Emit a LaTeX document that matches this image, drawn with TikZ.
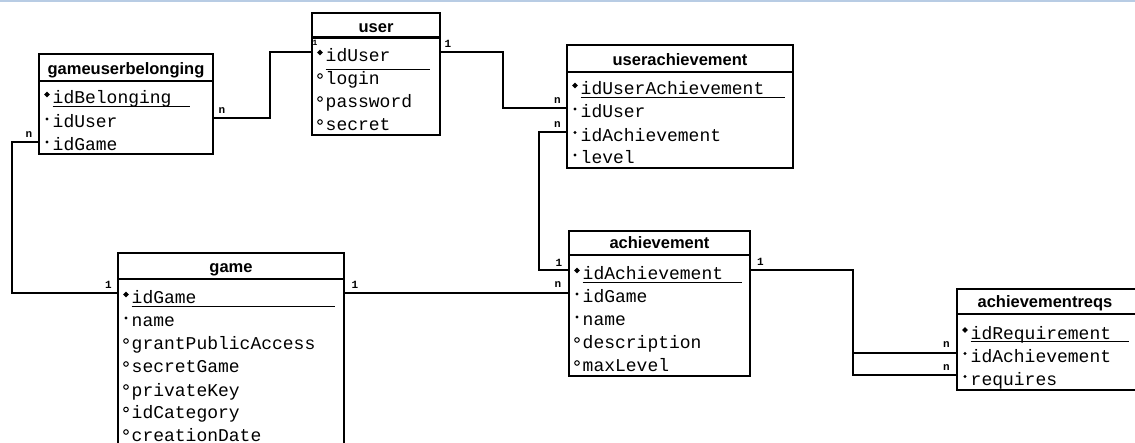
\documentclass[tikz,border=0pt]{standalone}
\usepackage{fontspec}
\newfontfamily\fieldfont{Liberation Mono}
\newfontfamily\headfont{Liberation Sans}
\definecolor{band}{HTML}{B8CCE4}

\tikzset{
  tbl/.style={draw, line width=2.4pt, inner sep=0pt, outer sep=0pt},
  divline/.style={line width=2.2pt},
  conn/.style={line width=2.9pt},
  uline/.style={line width=1.4pt},
  fieldtxt/.style={anchor=base west, inner sep=0pt, font=\fieldfont\fontsize{18}{20}\selectfont},
  titletxt/.style={anchor=base, inner sep=0pt, font=\headfont\bfseries\fontsize{16.5}{18}\selectfont},
  card/.style={inner sep=0pt, font=\fieldfont\bfseries\fontsize{11}{12}\selectfont},
}

% table frame: name, left, top, right, bottom, header divider
\newcommand{\tablebox}[6]{%
  \node[tbl, minimum width={#4-#2}, minimum height={#5-#3}] (#1) at ({(#2+#4)/2},{(#3+#5)/2}) {};
  \draw[divline] (#2,#6) -- (#4,#6);}

% column markers: key, required, optional
\newcommand{\mkpk}[2]{\fill ({#1},{#2-9.5}) +(-2.8,0) -- +(0,-2.8) -- +(2.8,0) -- +(0,2.8) -- cycle;}
\newcommand{\mkfk}[2]{\fill ({#1},{#2-9}) circle[radius=1.6];}
\newcommand{\mkopt}[2]{\draw[line width=1pt] ({#1},{#2-9}) circle[radius=2.3];}

% column row: node name, table left, baseline, marker, text
\newcommand{\fld}[5]{%
  \node[fieldtxt] (#1) at ({#2+13.5},#3) {#5};
  \csname mk#4\endcsname{#2+8}{#3}}

\begin{document}
\begin{tikzpicture}[x=1pt, y=-1pt]
\useasboundingbox (0,0) rectangle (1135,443);
\clip (0,0) rectangle (1135,443);
\fill[band] (0,0) rectangle (1135,2.5);

% ---- user ----
\tablebox{user}{312}{13}{440}{135}{37.5}
\node[titletxt] (user-t) at (376,33) {user};
\fld{user-1}{312}{62}{pk}{idUser}
\fld{user-2}{312}{85}{opt}{login}
\fld{user-3}{312}{108}{opt}{password}
\fld{user-4}{312}{131}{opt}{secret}
\draw[uline] (325.5,69.5) -- (430,69.5);

% ---- gameuserbelonging ----
\tablebox{gub}{39}{54}{213}{154}{81}
\node[titletxt] (gub-t) at (126,75) {gameuserbelonging};
\fld{gub-1}{39}{104}{pk}{idBelonging}
\fld{gub-2}{39}{128}{fk}{idUser}
\fld{gub-3}{39}{151}{fk}{idGame}
\draw[uline] (52.5,106.5) -- (190,106.5);

% ---- userachievement ----
\tablebox{ua}{567}{45}{793}{168}{72}
\node[titletxt] (ua-t) at (680,65.5) {userachievement};
\fld{ua-1}{567}{95}{pk}{idUserAchievement}
\fld{ua-2}{567}{118}{fk}{idUser}
\fld{ua-3}{567}{141.5}{fk}{idAchievement}
\fld{ua-4}{567}{164}{fk}{level}
\draw[uline] (580.5,97.5) -- (785,97.5);

% ---- game ----
\tablebox{game}{118}{253}{344}{470}{279}
\node[titletxt] (game-t) at (231,272.5) {game};
\fld{game-1}{118}{304}{pk}{idGame}
\fld{game-2}{118}{327}{fk}{name}
\fld{game-3}{118}{350}{opt}{grantPublicAccess}
\fld{game-4}{118}{373}{opt}{secretGame}
\fld{game-5}{118}{396}{opt}{privateKey}
\fld{game-6}{118}{418.5}{opt}{idCategory}
\fld{game-7}{118}{441}{opt}{creationDate}
\draw[uline] (131.5,306.5) -- (335,306.5);

% ---- achievement ----
\tablebox{ach}{569}{231}{750}{376}{255}
\node[titletxt] (ach-t) at (659.5,249) {achievement};
\fld{ach-1}{569}{280}{pk}{idAchievement}
\fld{ach-2}{569}{303}{fk}{idGame}
\fld{ach-3}{569}{326}{fk}{name}
\fld{ach-4}{569}{349}{opt}{description}
\fld{ach-5}{569}{372}{opt}{maxLevel}
\draw[uline] (582.5,282.5) -- (742,282.5);

% ---- achievementreqs ----
\tablebox{areq}{957}{289}{1160}{390}{314}
\node[titletxt] (areq-t) at (1045,307.5) {achievementreqs};
\fld{areq-1}{957}{339.5}{pk}{idRequirement}
\fld{areq-2}{957}{362.5}{fk}{idAchievement}
\fld{areq-3}{957}{385.5}{fk}{requires}
\draw[uline] (970.5,341.5) -- (1129,341.5);

% ---- relationships ----
\draw[conn] (gub.east |- 0,118) -| (270,52) -- (user.west |- 0,52);
\draw[conn] (user.east |- 0,52) -| (503,108) -- (ua.west |- 0,108);
\draw[conn] (ua.west |- 0,132) -| (539,270) -- (ach.west |- 0,270);
\draw[conn] (gub.west |- 0,142) -| (12,293) -- (game.west |- 0,293);
\draw[conn] (game.east |- 0,293) -- (ach.west |- 0,293);
\coordinate (split) at (853,353);
\draw[conn] (ach.east |- 0,270) -| (853,375) -- (areq.west |- 0,375);
\draw[conn] (split) -- (areq.west |- split);

% ---- cardinalities ----
\node[card] (c1) at (222,110.5) {n};
\node[card, font=\fieldfont\bfseries\fontsize{8}{9}\selectfont] (c2) at (315,42.5) {1};
\node[card] (c3) at (448,44) {1};
\node[card] (c4) at (557.5,101) {n};
\node[card] (c5) at (557.5,124.5) {n};
\node[card] (c6) at (29,134.5) {n};
\node[card] (c7) at (108.5,284.5) {1};
\node[card] (c8) at (355,284.5) {1};
\node[card] (c9) at (559,262.5) {1};
\node[card] (c10) at (558,285) {n};
\node[card] (c11) at (760.5,262) {1};
\node[card] (c12) at (946.5,345) {n};
\node[card] (c13) at (946.5,368) {n};
\end{tikzpicture}
\end{document}
